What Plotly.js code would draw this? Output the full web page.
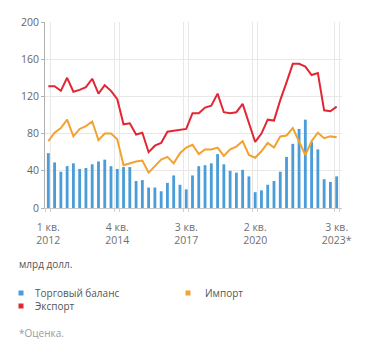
<!DOCTYPE html>
<html>
<head>
<meta charset="utf-8">
<script src="https://cdn.plot.ly/plotly-3.0.1.min.js"></script>
<style>
html,body{margin:0;padding:0;background:#fff;}
#chart{width:371px;height:356px;}
</style>
</head>
<body>
<div id="chart"></div>
<script>
// Quarters 1Q2012 .. 3Q2023 (47 quarters), index 0..46
var quarters = [];
for (var i = 0; i < 47; i++) quarters.push(i);

var tickPositions = [0, 11, 22, 33, 46];
var tickLabels = ["1 кв.<br>2012", "4 кв.<br>2014", "3 кв.<br>2017", "2 кв.<br>2020", "3 кв.<br>2023*"];

// Trade balance, bn USD
var balance = [59, 49, 39, 45, 48, 42, 43, 47, 50, 52, 45, 42, 44, 44, 29, 30,
               22, 22, 18, 27, 35, 25, 20, 35, 45, 46, 48, 58, 47, 40, 38, 41,
               34, 17, 19, 25, 29, 39, 55, 69, 85, 95, 71, 63, 31, 28, 34];
// Exports, bn USD
var exportsV = [131, 131, 126, 140, 125, 127, 130, 139, 123, 132, 126, 117, 90, 91, 79, 81,
                60, 67, 70, 82, 83, 84, 85, 102, 102, 108, 110, 123, 103, 102, 103, 112,
                92, 71, 80, 95, 94, 116, 135, 155, 155, 152, 143, 145, 105, 104, 109];
// Imports, bn USD
var importsV = [72, 81, 86, 95, 77, 85, 88, 93, 73, 80, 80, 74, 46, 48, 50, 51,
                38, 45, 52, 55, 48, 59, 65, 68, 58, 63, 63, 65, 56, 63, 66, 72,
                57, 54, 61, 70, 65, 77, 78, 86, 72, 57, 72, 81, 75, 77, 76];

var names = ["Торговый баланс", "Импорт", "Экспорт"];
var colors = ["#4A9DD8", "#F2A22E", "#E22634"];
var unitLabel = "млрд долл.";
var footnote = "*Оценка.";

var gridPairs = [];
tickPositions.forEach(function (t) { gridPairs.push(t - 0.4); gridPairs.push(t + 0.4); });

var traces = [
  {type: "bar", x: quarters, y: balance, name: names[0], marker: {color: colors[0]},
   showlegend: false},
  {type: "scatter", mode: "lines", x: quarters, y: importsV, name: names[1],
   line: {color: colors[1], width: 2}, showlegend: false},
  {type: "scatter", mode: "lines", x: quarters, y: exportsV, name: names[2],
   line: {color: colors[2], width: 2}, showlegend: false},
  // carrier for the paired grid axis
  {type: "scatter", mode: "markers", x: [null], y: [null], xaxis: "x2",
   showlegend: false, hoverinfo: "skip"}
];

// px -> paper helpers (plot area: x 45..342, y 22..208)
function px(x) { return (x - 45) / 297; }
function py(y) { return (208 - y) / 186; }

// legend layout (swatch + text), built from names/colors
var legendSlots = [
  {sx: 18.5, tx: 33, y: 293},
  {sx: 185.5, tx: 203, y: 293},
  {sx: 18.5, tx: 33, y: 306}
];
var shapes = [];
var annotations = [];
legendSlots.forEach(function (s, k) {
  shapes.push({type: "rect", xref: "paper", yref: "paper",
    x0: px(s.sx), x1: px(s.sx + 5), y0: py(s.y + 2.5), y1: py(s.y - 2.5),
    fillcolor: colors[k], line: {width: 0}});
  annotations.push({text: names[k], xref: "paper", yref: "paper", x: px(s.tx), y: py(s.y),
    xanchor: "left", yanchor: "middle", showarrow: false,
    font: {size: 10, color: "#555"}});
});
annotations.push({text: unitLabel, xref: "paper", yref: "paper", x: px(17), y: py(264),
  xanchor: "left", yanchor: "middle", showarrow: false, font: {size: 10, color: "#555"}});
annotations.push({text: footnote, xref: "paper", yref: "paper", x: px(17), y: py(333),
  xanchor: "left", yanchor: "middle", showarrow: false, font: {size: 10, color: "#9a9a9a"}});

var fontFam = "'Open Sans', sans-serif";
var layout = {
  width: 371, height: 356,
  margin: {l: 45, r: 29, t: 22, b: 148, pad: 0},
  paper_bgcolor: "#fff", plot_bgcolor: "#fff",
  font: {family: fontFam, size: 11, color: "#555"},
  bargap: 0.55,
  showlegend: false,
  xaxis: {
    range: [-0.53, 46.85], tickvals: tickPositions, ticktext: tickLabels,
    showgrid: false, zeroline: false, showline: true, linecolor: "#c8c8c8", linewidth: 1,
    ticks: "", ticklabelstandoff: 9, tickfont: {size: 10.5, color: "#707070"}, fixedrange: true
  },
  xaxis2: {
    overlaying: "x", matches: "x", range: [-0.53, 46.85], tickvals: gridPairs,
    showticklabels: false, showgrid: true, gridcolor: "#e8e8e8", gridwidth: 1,
    ticks: "outside", ticklen: 3, tickcolor: "#d0d0d0", showline: false, zeroline: false,
    side: "bottom"
  },
  yaxis: {
    range: [0, 200], tickvals: [0, 40, 80, 120, 160, 200],
    showgrid: true, gridcolor: "#e8e8e8", gridwidth: 1, zeroline: false,
    showline: true, linecolor: "#b0b0b0", linewidth: 1,
    ticks: "outside", ticklen: 3, tickcolor: "#b0b0b0",
    tickfont: {size: 10.5, color: "#666"}, fixedrange: true
  },
  shapes: shapes,
  annotations: annotations
};

Plotly.newPlot("chart", traces, layout, {displayModeBar: false, staticPlot: true});
</script>
</body>
</html>
